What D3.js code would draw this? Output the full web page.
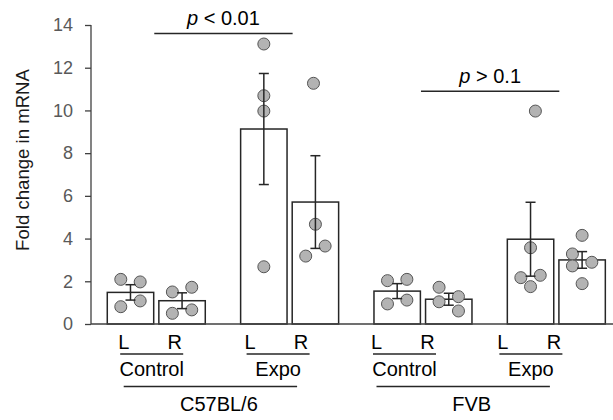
<!DOCTYPE html>
<html lang="en">
    <head>
        <meta charset="utf-8">
        <title>Fold change in mRNA</title>
        <script type="text/javascript" src="https://d3js.org/d3.v7.min.js"></script>
        <style>
            body {
                margin: 0;
                background: white;
            }
            text {
                font-family: "Liberation Sans", Arial, sans-serif;
            }
        </style>
    </head>
    <body>
        <script>
            //Width and height
            const w = 613;
            const h = 420;

            // categories
            const strains = ["C57BL/6", "FVB"];
            const treatments = ["Control", "Expo"];
            const sides = ["L", "R"];
            const groups = ["C57BL/6 Control", "C57BL/6 Expo", "FVB Control", "FVB Expo"];

            // bar means and SEM, order: group x side
            const means = [1.48, 1.09, 9.13, 5.71, 1.54, 1.16, 3.97, 3.00];
            const sems = [0.36, 0.37, 2.60, 2.17, 0.35, 0.28, 1.73, 0.39];

            // individual animals
            const points = [
                [2.09, 1.97, 0.81, 1.08],
                [1.50, 1.72, 0.50, 0.66],
                [13.11, 10.69, 9.97, 2.68],
                [11.27, 4.67, 3.65, 3.18],
                [2.03, 2.09, 0.94, 1.12],
                [1.72, 1.28, 1.04, 0.61],
                [9.97, 3.57, 2.17, 2.28, 1.75],
                [4.15, 3.28, 2.89, 2.72, 1.89]
            ];
            // jitter slot of each dot (left / middle / right)
            const slots = [
                [-1, 1, -1, 1],
                [-1, 1, -1, 1],
                [0, 0, 0, 0],
                [-0.2, 0, 1, -1],
                [-1, 1, -1, 1],
                [-1, 1, -1, 1],
                [0.5, 0, -1, 1, 0],
                [0, -1, 1, -1, 0]
            ];

            const yTicks = [0, 2, 4, 6, 8, 10, 12, 14];

            // significance brackets: [from group, to group, level, label]
            const brackets = [
                ["C57BL/6 Control", "C57BL/6 Expo", 13.6, "< 0.01"],
                ["FVB Control", "FVB Expo", 10.9, "> 0.1"]
            ];

            const axisColor = "#404040";
            const ink = "#262626";

            const svg = d3.select("body")
                        .append("svg")
                        .attr("width", w)
                        .attr("height", h);

            // scales
            let yScale = d3.scaleLinear()
                            .domain([0, 14])
                            .range([324, 25]);

            let groupScale = d3.scaleBand()
                            .domain(groups)
                            .range([89.6, 623]);

            let sideScale = d3.scaleBand()
                            .domain(sides)
                            .range([-49, 49])
                            .paddingInner(0.1);

            // text labels sit on a slightly tighter grid than the bars
            let labelScale = d3.scaleBand()
                            .domain(groups)
                            .range([88.5, 594.1]);

            let bars = [];
            groups.forEach(function(g, gi) {
                sides.forEach(function(s, si) {
                    let i = gi * 2 + si;
                    bars.push({group: g, side: s, mean: means[i], sem: sems[i], pts: points[i], slots: slots[i]});
                });
            });

            function barCenter(d) {
                return groupScale(d.group) + groupScale.bandwidth() / 2 + sideScale(d.side) + sideScale.bandwidth() / 2;
            }

            // y axis
            let yAxis = d3.axisLeft(yScale)
                            .tickValues(yTicks)
                            .tickSize(6)
                            .tickPadding(12);

            let yG = svg.append("g")
                        .attr("transform", "translate(91,0)")
                        .call(yAxis);
            yG.select(".domain").remove();
            yG.append("line")
                .attr("x1", 0).attr("x2", 0)
                .attr("y1", yScale(14)).attr("y2", yScale(0))
                .attr("stroke", axisColor)
                .attr("stroke-width", 1.3);
            yG.selectAll(".tick line")
                .attr("stroke", axisColor)
                .attr("stroke-width", 1.3);
            yG.selectAll(".tick text")
                .attr("font-size", "18px")
                .attr("fill", "#595959");

            svg.append("text")
                .attr("transform", "translate(29," + 160 + ") rotate(-90)")
                .attr("text-anchor", "middle")
                .attr("font-size", "18.6px")
                .attr("fill", "#1a1a1a")
                .text("Fold change in mRNA");

            //Create bars
            svg.selectAll("rect.bar")
                .data(bars)
                .enter()
                .append("rect")
                .attr("class", "bar")
                .attr("x", function(d) {
                    return barCenter(d) - sideScale.bandwidth() / 2;
                })
                .attr("y", function(d) {
                    return yScale(d.mean);
                })
                .attr("width", sideScale.bandwidth())
                .attr("height", function(d) {
                    return yScale(0) - yScale(d.mean);
                })
                .attr("fill", "white")
                .attr("stroke", ink)
                .attr("stroke-width", 1.5);

            // baseline
            svg.append("line")
                .attr("x1", 91).attr("x2", w)
                .attr("y1", yScale(0)).attr("y2", yScale(0))
                .attr("stroke", axisColor)
                .attr("stroke-width", 1.5);

            // dots
            const dotR = 6;
            const dotStep = 9.7;
            bars.forEach(function(b) {
                svg.selectAll(null)
                    .data(b.pts)
                    .enter()
                    .append("circle")
                    .attr("cx", function(d, i) {
                        return barCenter(b) + b.slots[i] * dotStep;
                    })
                    .attr("cy", function(d) {
                        return yScale(d);
                    })
                    .attr("r", dotR)
                    .attr("fill", "#b3b3b3")
                    .attr("stroke", "#555555")
                    .attr("stroke-width", 1);
            });

            // error bars
            const cap = 5;
            let err = svg.selectAll("g.err")
                .data(bars)
                .enter()
                .append("g")
                .attr("class", "err")
                .attr("stroke", ink)
                .attr("stroke-width", 1.5);
            err.append("line")
                .attr("x1", barCenter).attr("x2", barCenter)
                .attr("y1", function(d) { return yScale(d.mean + d.sem); })
                .attr("y2", function(d) { return yScale(d.mean - d.sem); });
            err.append("line")
                .attr("x1", function(d) { return barCenter(d) - cap; })
                .attr("x2", function(d) { return barCenter(d) + cap; })
                .attr("y1", function(d) { return yScale(d.mean + d.sem); })
                .attr("y2", function(d) { return yScale(d.mean + d.sem); });
            err.append("line")
                .attr("x1", function(d) { return barCenter(d) - cap; })
                .attr("x2", function(d) { return barCenter(d) + cap; })
                .attr("y1", function(d) { return yScale(d.mean - d.sem); })
                .attr("y2", function(d) { return yScale(d.mean - d.sem); });

            // significance brackets
            brackets.forEach(function(b) {
                let x1 = groupScale(b[0]) + groupScale.bandwidth() / 2 - 2;
                let x2 = groupScale(b[1]) + groupScale.bandwidth() / 2 + 3;
                let y = yScale(b[2]);
                svg.append("line")
                    .attr("x1", x1).attr("x2", x2)
                    .attr("y1", y).attr("y2", y)
                    .attr("stroke", ink)
                    .attr("stroke-width", 1.5);
                let t = svg.append("text")
                    .attr("x", (x1 + x2) / 2)
                    .attr("y", y - 8.5)
                    .attr("text-anchor", "middle")
                    .attr("font-size", "20px")
                    .attr("fill", "#000");
                t.append("tspan").attr("font-style", "italic").text("p");
                t.append("tspan").text(" " + b[3]);
            });

            // category labels under the axis
            function labelCenter(g) {
                return labelScale(g) + labelScale.bandwidth() / 2;
            }

            let lab = svg.selectAll("g.lab")
                .data(groups)
                .enter()
                .append("g")
                .attr("class", "lab")
                .attr("font-size", "20px")
                .attr("fill", "#000");
            lab.append("text")
                .attr("x", function(d) { return labelCenter(d) - 28; })
                .attr("y", 348.5)
                .attr("text-anchor", "middle")
                .text(sides[0]);
            lab.append("text")
                .attr("x", function(d) { return labelCenter(d) + 23; })
                .attr("y", 348.5)
                .attr("text-anchor", "middle")
                .text(sides[1]);
            lab.append("line")
                .attr("x1", function(d) { return labelCenter(d) - 31.5; })
                .attr("x2", function(d) { return labelCenter(d) + 31.5; })
                .attr("y1", 354).attr("y2", 354)
                .attr("stroke", ink)
                .attr("stroke-width", 1.3);
            lab.append("text")
                .attr("x", labelCenter)
                .attr("y", 375.5)
                .attr("text-anchor", "middle")
                .text(function(d, i) { return treatments[i % 2]; });

            // strain labels
            strains.forEach(function(s, si) {
                let a = labelCenter(groups[si * 2]);
                let b = labelCenter(groups[si * 2 + 1]);
                svg.append("line")
                    .attr("x1", a - 28).attr("x2", b + 19)
                    .attr("y1", 386.5).attr("y2", 386.5)
                    .attr("stroke", ink)
                    .attr("stroke-width", 1.3);
                svg.append("text")
                    .attr("x", (a + b) / 2 + 4)
                    .attr("y", 410.5)
                    .attr("text-anchor", "middle")
                    .attr("font-size", "20px")
                    .attr("fill", "#000")
                    .text(s);
            });
        </script>
    </body>
</html>
